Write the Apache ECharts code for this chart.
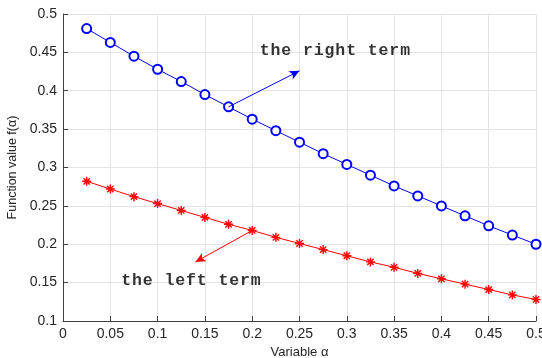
<!DOCTYPE html>
<html><head><meta charset="utf-8">
<script src="https://cdn.jsdelivr.net/npm/echarts@6/dist/echarts.min.js"></script>
<style>html,body{margin:0;padding:0;background:#fff}#c{width:542px;height:358px}</style>
</head><body><div id="c"></div>
<script>
const alphas = [0.025,0.05,0.075,0.1,0.125,0.15,0.175,0.2,0.225,0.25,0.275,0.3,0.325,0.35,0.375,0.4,0.425,0.45,0.475,0.5];
const rightTerm = [0.481,0.463,0.445,0.428,0.412,0.395,0.379,0.363,0.348,0.333,0.318,0.304,0.290,0.276,0.263,0.250,0.237,0.224,0.212,0.200];
const leftTerm = [0.282,0.272,0.262,0.253,0.244,0.235,0.226,0.218,0.209,0.201,0.193,0.185,0.177,0.170,0.162,0.155,0.148,0.141,0.134,0.128];
const xTicks = ['0','0.05','0.1','0.15','0.2','0.25','0.3','0.35','0.4','0.45','0.5'];
const yTicks = ['0.1','0.15','0.2','0.25','0.3','0.35','0.4','0.45','0.5'];
const rightArrow = [[0.175,0.379],[0.25,0.426]];
const leftArrow = [[0.2,0.218],[0.14,0.177]];
const rightLabel = {text:'the right term', pos:[0.208,0.4525]};
const leftLabel = {text:'the left term', pos:[0.0615,0.1525]};

const chart = echarts.init(document.getElementById('c'));
const axisCol = '#404040';
const fmt = (list, min, step) => v => { const i = Math.round((v-min)/step); return list[i] !== undefined ? list[i] : ''; };
const asterisk = 'path://M5 0L5 10M0 5L10 5M1.5 1.5L8.5 8.5M8.5 1.5L1.5 8.5';
function pairs(xs, ys){ return xs.map((x,i)=>[x, ys[i]]); }
const spaced = s => s.split('').map(ch => '{c|' + ch + '}').join('');
chart.setOption({
  animation:false,
  grid:{left:63, right:6, top:14, bottom:37, containLabel:false, outerBoundsMode:'none'},
  xAxis:{type:'value', min:0, max:0.5, interval:0.05,
    name:'Variable α', nameLocation:'middle', nameGap:22,
    nameTextStyle:{fontFamily:'"Liberation Sans", Arial', fontSize:13, color:'#262626'},
    axisLine:{lineStyle:{color:axisCol}}, axisTick:{inside:true, length:5, lineStyle:{color:axisCol}},
    axisLabel:{formatter:fmt(xTicks,0,0.05), fontFamily:'"Liberation Sans", Arial', fontSize:14, color:'#262626', margin:6},
    splitLine:{show:true, lineStyle:{color:'#e3e3e3'}}},
  yAxis:{type:'value', min:0.1, max:0.5, interval:0.05,
    name:'Function value f(α)', nameLocation:'middle', nameGap:44,
    nameTextStyle:{fontFamily:'"Liberation Sans", Arial', fontSize:12.5, color:'#262626'},
    axisLine:{show:true, lineStyle:{color:axisCol}}, axisTick:{show:true, inside:true, length:5, lineStyle:{color:axisCol}},
    axisLabel:{formatter:fmt(yTicks,0.1,0.05), fontFamily:'"Liberation Sans", Arial', fontSize:14, color:'#262626', margin:6},
    splitLine:{show:true, lineStyle:{color:'#e3e3e3'}}},
  series:[
    {type:'line', data:pairs(alphas,rightTerm), symbol:'emptyCircle', symbolSize:9,
     lineStyle:{color:'#0000ff', width:1}, itemStyle:{color:'#0000ff', borderWidth:0.9},
     markLine:{silent:true, symbol:['none','arrow'], symbolSize:[7,10], label:{show:false},
       lineStyle:{color:'#0000ff', width:1, type:'solid'},
       data:[[{coord:rightArrow[0]},{coord:rightArrow[1]}]]}},
    {type:'line', data:pairs(alphas,leftTerm), symbol:asterisk, symbolSize:9,
     lineStyle:{color:'#ff0000', width:1}, itemStyle:{color:'#ff0000', borderColor:'#ff0000', borderWidth:1.4},
     markLine:{silent:true, symbol:['none','arrow'], symbolSize:[7,10], label:{show:false},
       lineStyle:{color:'#ff0000', width:1, type:'solid'},
       data:[[{coord:leftArrow[0]},{coord:leftArrow[1]}]]}},
    {type:'scatter', data:[{value:rightLabel.pos, name:rightLabel.text},{value:leftLabel.pos, name:leftLabel.text}],
     symbolSize:0, silent:true,
     label:{show:true, position:'right', distance:0, formatter:p=>spaced(p.name),
       rich:{c:{width:10.8, align:'left', fontFamily:'"Liberation Mono", "Courier New", monospace', fontWeight:'bold', fontSize:16.5, color:'#000'}}}}
  ]
});
</script></body></html>
